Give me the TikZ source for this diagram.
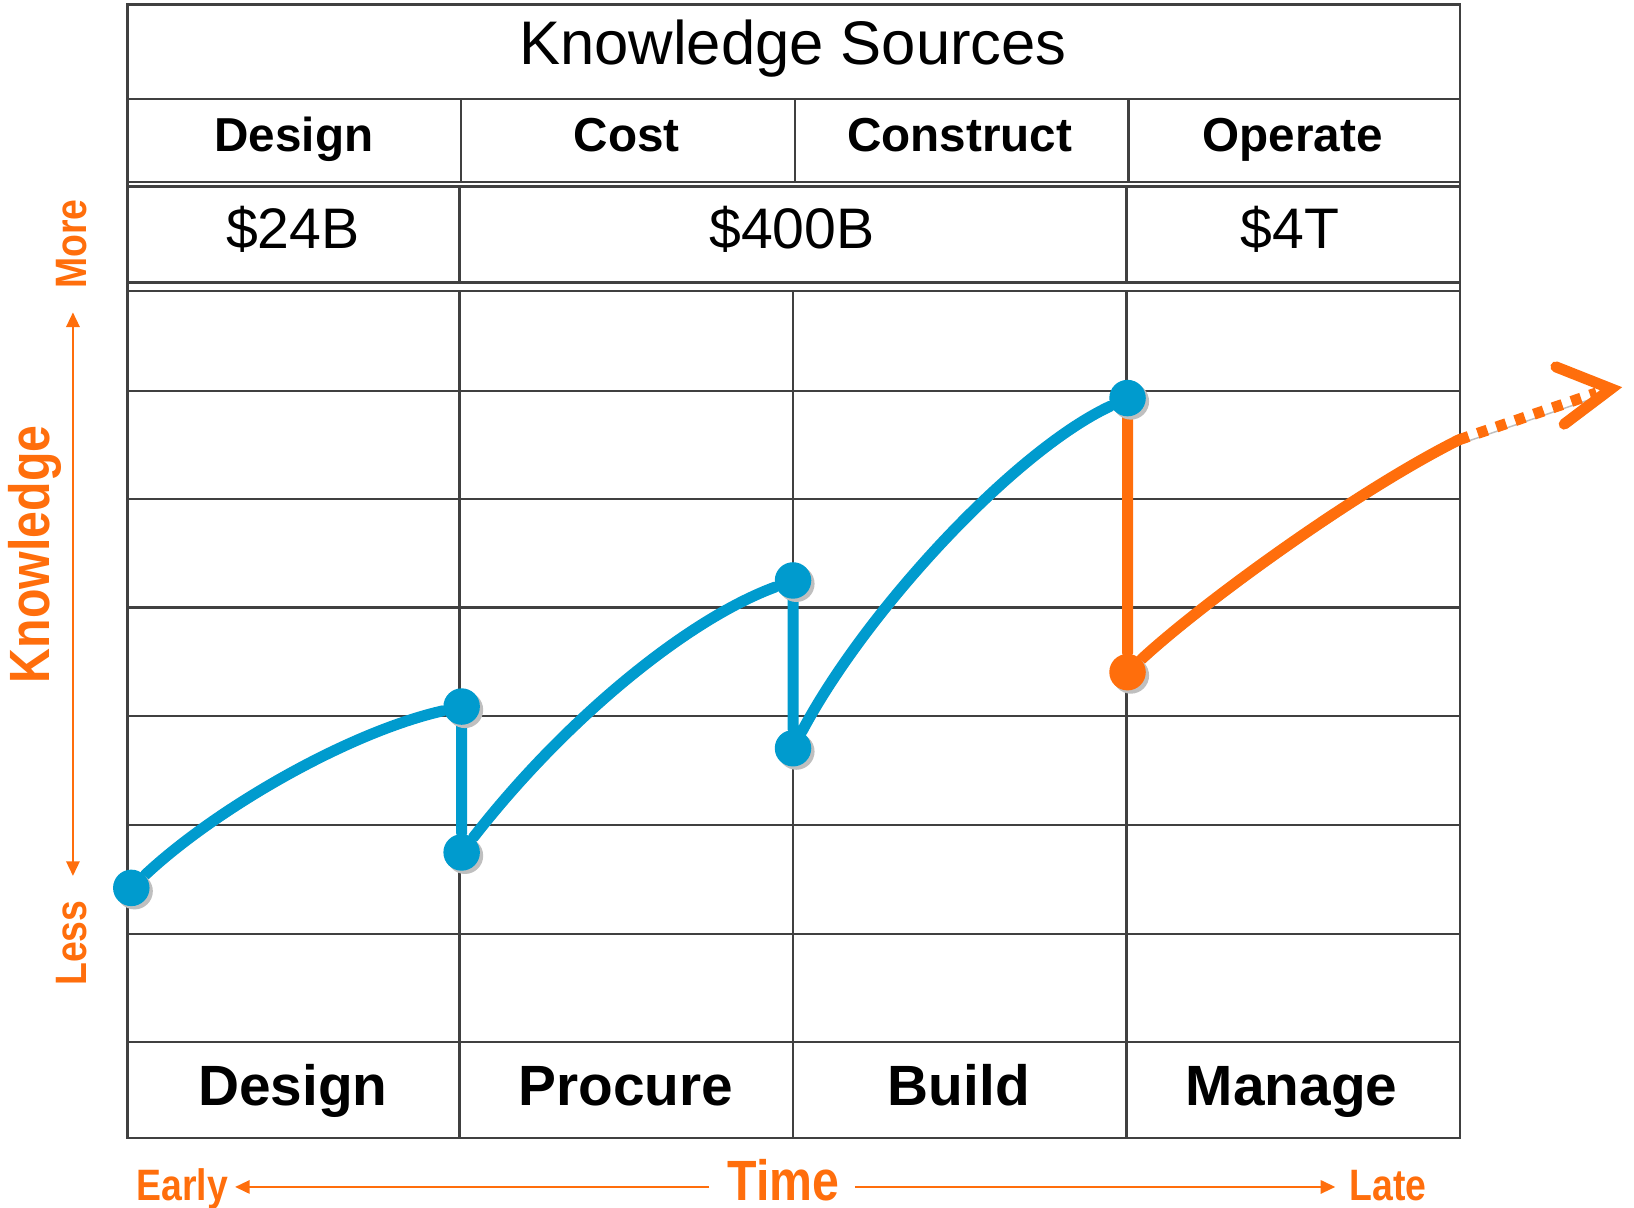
\documentclass[tikz,border=0pt]{standalone}
\usepackage{fontspec}
\setmainfont{Liberation Sans}
\newfontfamily\axisfont[FakeStretch=0.85]{Liberation Sans}
\usetikzlibrary{positioning,arrows.meta,shadows}

\definecolor{kblue}{RGB}{0,155,206}
\definecolor{korange}{RGB}{255,110,12}

\pgfdeclarelayer{back}
\pgfdeclarelayer{mid}
\pgfsetlayers{back,mid,main}

\begin{document}
\begin{tikzpicture}
		[x=0.01cm,y=-0.01cm,
		rule/.style={draw=black!75,line width=0.6pt},
		title/.style={font=\fontsize{16.8}{20}\selectfont,anchor=base},
		head/.style={font=\bfseries\fontsize{13}{16}\selectfont,anchor=base},
		money/.style={font=\fontsize{15.6}{18}\selectfont,anchor=base},
		phase/.style={font=\bfseries\fontsize{15.5}{18}\selectfont,anchor=base},
		axlabel/.style={text=korange,font=\axisfont\bfseries\fontsize{12}{14}\selectfont,inner sep=0pt,text height=0.72em,text depth=0pt},
		axbig/.style={axlabel,font=\axisfont\bfseries\fontsize{15.5}{18}\selectfont},
		axarrow/.style={draw=korange,line width=0.7pt,>={Triangle[length=4pt,width=3.6pt]}},
		kdot/.style={circle,fill=#1,inner sep=0pt,minimum size=0.35cm,drop shadow={shadow xshift=0.9pt,shadow yshift=-0.9pt,fill=black!25,opacity=1}},
		trend/.style={draw=#1,line width=3pt,line cap=round,line join=round,preaction={draw=black!25,transform canvas={shift={(0.9pt,-0.9pt)}}}}]
		\useasboundingbox (0,0) rectangle (1568,1159);

		% table
		\begin{pgfonlayer}{back}
		\draw [rule,line width=0.8pt] (122,4) rectangle (1401,1092);
		\foreach \y in {95,175,179,279,375,479,583,687,792,896,1000}
			\draw [rule] (122,\y) -- (1401,\y);
		\draw [rule,line width=1pt] (122,271) -- (1401,271);
		\foreach \x in {442,763,1083}
			\draw [rule] (\x,95) -- (\x,175);
		\foreach \x in {441,1081}
			\draw [rule] (\x,179) -- (\x,271);
		\foreach \x in {441,761,1081}
			\draw [rule] (\x,279) -- (\x,1092);
		\end{pgfonlayer}

		\node [title] (ks) at (761,62) {Knowledge Sources};
		\foreach \t [count=\i] in {Design,Cost,Construct,Operate}
			\node [head] (h\i) at ({282+319.5*(\i-1)},145) {\t};
		\node [money] (m1) at (281,238) {\$24B};
		\node [money] (m2) at (760,238) {\$400B};
		\node [money] (m3) at (1238,238) {\$4T};
		\foreach \t [count=\i] in {Design,Procure,Build,Manage}
			\node [phase] (p\i) at ({281+319.5*(\i-1)},1061) {\t};

		% knowledge points
		\node [kdot=kblue] (k1) at (126,852) {};
		\node [kdot=kblue] (k2) at (443,678) {};
		\node [kdot=kblue] (k3) at (443,818) {};
		\node [kdot=kblue] (k4) at (761,557) {};
		\node [kdot=kblue] (k5) at (761,718) {};
		\node [kdot=kblue] (k6) at (1082,382) {};
		\node [kdot=korange] (k7) at (1082,645) {};
		\coordinate (edge) at (1400,422);
		\coordinate (tip) at (1546,373);

		\begin{pgfonlayer}{mid}
		\draw [trend=kblue] (k1) .. controls +(80,-75) and +(-110,25) .. (k2) -- (k3)
			.. controls +(98,-126) and +(-103,38) .. (k4) -- (k5)
			.. controls +(70,-132) and +(-109,51) .. (k6);
		\draw [trend=korange] (k6) -- (k7) .. controls +(70,-65) and +(-100,50) .. (edge);
		\draw [trend=korange,line cap=butt,dash pattern=on 2.8pt off 2.6pt] (edge) -- ([shift={(-14,4)}]tip);
		\draw [trend=korange,line join=miter] ([shift={(-53,-21)}]tip) -- (tip) -- ([shift={(-45,34)}]tip);
		\end{pgfonlayer}

		% axes
		\node [axbig,rotate=90] (kn) at (35,532) {Knowledge};
		\node [axlabel,rotate=90] (more) at (70,234) {More};
		\node [axlabel,rotate=90] (less) at (70,905) {Less};
		\node [axlabel] (early) at (175,1139) {Early};
		\node [axbig] (time) at (752,1139) {Time};
		\node [axlabel] (late) at (1332,1139) {Late};
		\draw [axarrow,->,shorten <=4.8pt,shorten >=1.7pt] (time) -- (early);
		\draw [axarrow,->,shorten <=4pt,shorten >=3.7pt] (time) -- (late);
		\draw [axarrow,<->,shorten <=6.5pt,shorten >=6.3pt] (less) -- (more);

	\end{tikzpicture}
\end{document}
